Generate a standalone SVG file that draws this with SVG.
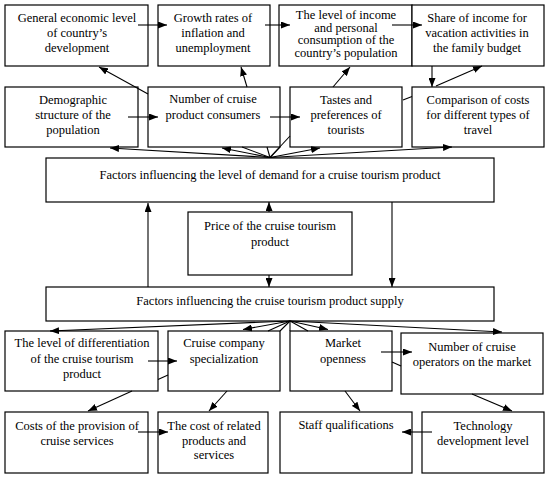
<svg xmlns="http://www.w3.org/2000/svg" width="550" height="477" viewBox="0 0 550 477">
<defs>
<marker id="ah" markerWidth="9" markerHeight="7" refX="9" refY="3.5" orient="auto" markerUnits="userSpaceOnUse">
<path d="M0,0 L9,3.5 L0,7 z" fill="#000"/>
</marker>
<style>
.b{fill:#fff;stroke:#000;stroke-width:1.2}
.t{font-family:"Liberation Serif","Times New Roman",serif;font-size:12.5px;fill:#000;text-anchor:middle}
.c line{stroke:#000;stroke-width:1.1}
.a{marker-end:url(#ah)}
</style>
</defs>
<rect width="550" height="477" fill="#fff"/>

<g id="n-general"><rect class="b" x="5" y="5" width="143" height="61"/>
<text class="t" x="77" y="22">General economic level</text><text class="t" x="77" y="37">of country’s</text><text class="t" x="77" y="52">development</text></g>
<g id="n-growth"><rect class="b" x="158" y="5" width="112" height="61"/>
<text class="t" x="213" y="22">Growth rates of</text><text class="t" x="213" y="37">inflation and</text><text class="t" x="213" y="52">unemployment</text></g>
<g id="n-income"><rect class="b" x="279" y="5" width="133" height="61"/>
<text class="t" x="346" y="19">The level of income</text><text class="t" x="346" y="31.5">and personal</text><text class="t" x="346" y="44">consumption of the</text><text class="t" x="346" y="56.5">country’s population</text></g>
<g id="n-share"><rect class="b" x="412" y="5" width="132" height="61"/>
<text class="t" x="477" y="22">Share of income for</text><text class="t" x="477" y="37">vacation activities in</text><text class="t" x="477" y="52">the family budget</text></g>

<g id="n-demographic"><rect class="b" x="5" y="87" width="133" height="60"/>
<text class="t" x="73" y="104">Demographic</text><text class="t" x="73" y="119">structure of the</text><text class="t" x="73" y="133.5">population</text></g>
<g id="n-number"><rect class="b" x="148" y="87" width="132" height="60"/>
<text class="t" x="213" y="103">Number of cruise</text><text class="t" x="213" y="119">product consumers</text></g>
<g id="n-tastes"><rect class="b" x="290" y="87" width="112" height="60"/>
<text class="t" x="346" y="104">Tastes and</text><text class="t" x="346" y="119">preferences of</text><text class="t" x="346" y="133.5">tourists</text></g>
<g id="n-comparison"><rect class="b" x="412" y="87" width="132" height="60"/>
<text class="t" x="478" y="104">Comparison of costs</text><text class="t" x="478" y="119">for different types of</text><text class="t" x="478" y="133.5">travel</text></g>

<g id="n-demand"><rect class="b" x="46" y="158" width="448" height="44"/>
<text class="t" x="270" y="179">Factors influencing the level of demand for a cruise tourism product</text></g>
<g id="n-price"><rect class="b" x="188" y="212" width="164" height="63"/>
<text class="t" x="270" y="230">Price of the cruise tourism</text><text class="t" x="270" y="246">product</text></g>
<g id="n-supply"><rect class="b" x="46" y="287" width="448" height="34"/>
<text class="t" x="270" y="305">Factors influencing the cruise tourism product supply</text></g>

<g id="n-differentiation"><rect class="b" x="5" y="331" width="153" height="60"/>
<text class="t" x="82" y="347">The level of differentiation</text><text class="t" x="82" y="363">of the cruise tourism</text><text class="t" x="82" y="378">product</text></g>
<g id="n-specialization"><rect class="b" x="168" y="331" width="112" height="60"/>
<text class="t" x="224" y="347">Cruise company</text><text class="t" x="224" y="363">specialization</text></g>
<g id="n-openness"><rect class="b" x="290" y="331" width="102" height="60"/>
<text class="t" x="343" y="347">Market</text><text class="t" x="343" y="363">openness</text></g>
<g id="n-operators"><rect class="b" x="401" y="333" width="142" height="61"/>
<text class="t" x="472" y="351">Number of cruise</text><text class="t" x="472" y="366">operators on the market</text></g>

<g id="n-costs"><rect class="b" x="5" y="412" width="143" height="61"/>
<text class="t" x="77" y="430">Costs of the provision of</text><text class="t" x="77" y="445">cruise services</text></g>
<g id="n-related"><rect class="b" x="158" y="412" width="110" height="61"/>
<text class="t" x="214" y="430">The cost of related</text><text class="t" x="214" y="445">products and</text><text class="t" x="214" y="459">services</text></g>
<g id="n-staff"><rect class="b" x="280" y="412" width="132" height="61"/>
<text class="t" x="346" y="429">Staff qualifications</text></g>
<g id="n-technology"><rect class="b" x="422" y="412" width="122" height="61"/>
<text class="t" x="483" y="430">Technology</text><text class="t" x="483" y="445">development level</text></g>

<g id="connectors" class="c">
<line class="a" x1="138" y1="25" x2="167" y2="25"/>
<line class="a" x1="265" y1="25" x2="290" y2="25"/>
<line class="a" x1="392" y1="25" x2="422" y2="25"/>
<line class="a" x1="128" y1="117" x2="158" y2="117"/>
<line class="a" x1="270" y1="117" x2="300" y2="117"/>
<line class="a" x1="148" y1="94" x2="99" y2="67"/>
<line class="a" x1="247" y1="87" x2="241" y2="67"/>
<line class="a" x1="333" y1="87" x2="350" y2="67"/>
<line x1="403" y1="100" x2="412" y2="96.5"/>
<line class="a" x1="436" y1="86" x2="482" y2="66"/>
<line class="a" x1="432" y1="66" x2="432" y2="87"/>

<line class="a" x1="270" y1="157.5" x2="110" y2="148"/>
<line class="a" x1="270" y1="157.5" x2="222" y2="148"/>
<line x1="270" y1="157.5" x2="242" y2="147"/>
<line x1="270" y1="157.5" x2="267" y2="147"/>
<line x1="270" y1="157.5" x2="280" y2="147"/>
<line x1="270" y1="157.5" x2="290" y2="136"/>
<line class="a" x1="270" y1="157.5" x2="320" y2="148"/>
<line class="a" x1="270" y1="157.5" x2="452" y2="147"/>

<line class="a" x1="148" y1="287" x2="148" y2="203"/>
<line class="a" x1="269" y1="212" x2="269" y2="202"/>
<line class="a" x1="269" y1="275" x2="269" y2="287"/>
<line class="a" x1="392" y1="202" x2="392" y2="287"/>

<line class="a" x1="290" y1="321" x2="50" y2="331"/>
<line class="a" x1="290" y1="321" x2="243" y2="329.5"/>
<line x1="290" y1="321" x2="268" y2="331"/>
<line x1="290" y1="321" x2="280" y2="331"/>
<line x1="290" y1="321" x2="290" y2="331"/>
<line x1="290" y1="321" x2="308" y2="331"/>
<line class="a" x1="290" y1="321" x2="328" y2="329.5"/>
<line class="a" x1="290" y1="321" x2="502" y2="332"/>

<line class="a" x1="148" y1="361" x2="177" y2="361"/>
<line x1="168" y1="375" x2="158" y2="379.5"/>
<line class="a" x1="132" y1="391" x2="88" y2="411"/>
<line class="a" x1="227" y1="391" x2="209" y2="411"/>
<line class="a" x1="138" y1="432" x2="168" y2="432"/>
<line class="a" x1="381" y1="352" x2="412" y2="352"/>
<line x1="392" y1="362" x2="401" y2="366"/>
<line class="a" x1="472" y1="394" x2="512" y2="411"/>
<line class="a" x1="345" y1="391" x2="360" y2="411"/>
<line class="a" x1="432" y1="432" x2="402" y2="432"/>
</g>
</svg>
